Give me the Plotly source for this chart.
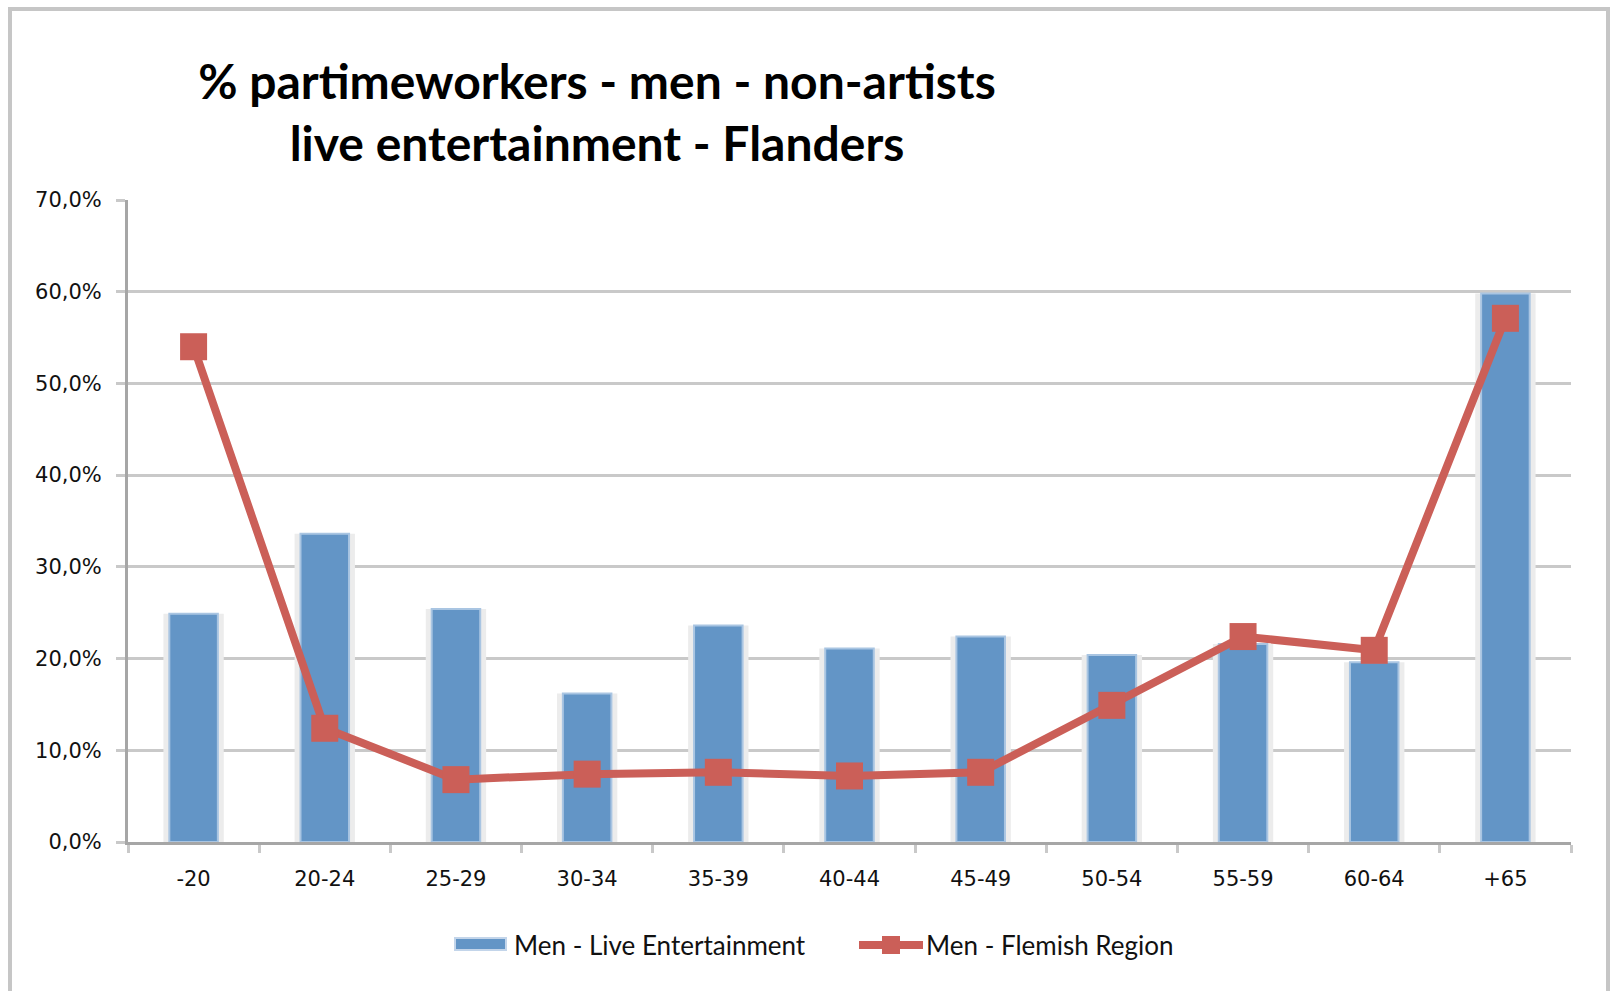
import plotly.graph_objects as go

# Age groups and part-time percentages (men)
age_groups = ["-20", "20-24", "25-29", "30-34", "35-39", "40-44",
              "45-49", "50-54", "55-59", "60-64", "+65"]
live_entertainment = [24.9, 33.6, 25.4, 16.2, 23.6, 21.1, 22.4, 20.4, 21.6, 19.6, 59.8]
flemish_region = [54.0, 12.4, 6.8, 7.4, 7.6, 7.2, 7.6, 14.9, 22.4, 20.9, 57.1]

y_ticks = [0, 10, 20, 30, 40, 50, 60, 70]
y_tick_labels = ["0,0%", "10,0%", "20,0%", "30,0%", "40,0%", "50,0%", "60,0%", "70,0%"]

BLUE = "#6395c6"
RED = "#cb5f58"
GRID = "#c9c9c9"

W, H = 1610, 991
ML, MR, MT, MB = 128, 39, 200, 149
PW, PH = W - ML - MR, H - MT - MB


def px_x(x):
    return (x - ML) / PW


def px_y(y):
    return (H - MB - y) / PH


fig = go.Figure()

# soft halo behind the columns
fig.add_trace(go.Bar(
    x=age_groups, y=live_entertainment, width=0.46,
    marker=dict(color="#ececec", line=dict(width=0)),
    showlegend=False, hoverinfo="skip",
))
fig.add_trace(go.Bar(
    x=age_groups, y=live_entertainment, width=0.37,
    name="Men - Live Entertainment",
    marker=dict(color=BLUE, line=dict(color="#a9c5e2", width=2)),
    showlegend=False,
))
fig.add_trace(go.Scatter(
    x=age_groups, y=flemish_region, mode="lines+markers",
    name="Men - Flemish Region",
    line=dict(color=RED, width=8),
    marker=dict(symbol="square", size=27, color=RED),
    showlegend=False,
))

shapes = [
    # outer chart frame
    dict(type="rect", xref="paper", yref="paper",
         x0=px_x(10), x1=px_x(1608), y0=px_y(1010), y1=px_y(9),
         line=dict(color="#c6c6c6", width=4), fillcolor="rgba(0,0,0,0)", layer="below"),
    # legend: column swatch
    dict(type="rect", xref="paper", yref="paper",
         x0=px_x(455), x1=px_x(506), y0=px_y(950), y1=px_y(938),
         line=dict(color="#c3d5ea", width=2), fillcolor=BLUE),
    # legend: line swatch
    dict(type="line", xref="paper", yref="paper",
         x0=px_x(859), x1=px_x(923), y0=px_y(945), y1=px_y(945),
         line=dict(color=RED, width=8)),
    dict(type="rect", xref="paper", yref="paper",
         x0=px_x(882), x1=px_x(900), y0=px_y(954), y1=px_y(936),
         line=dict(width=0), fillcolor=RED),
]

annotations = [
    dict(text="Men - Live Entertainment", xref="paper", yref="paper",
         x=px_x(512), y=px_y(945), xanchor="left", yanchor="middle",
         showarrow=False, font=dict(family="Lato", size=26, color="#111111")),
    dict(text="Men - Flemish Region", xref="paper", yref="paper",
         x=px_x(924), y=px_y(945), xanchor="left", yanchor="middle",
         showarrow=False, font=dict(family="Lato", size=26, color="#111111")),
]

fig.update_layout(
    width=W, height=H,
    margin=dict(l=ML, r=MR, t=MT, b=MB),
    paper_bgcolor="white", plot_bgcolor="white",
    barmode="overlay",
    title=dict(
        text="% partimeworkers - men - non-artists<br>live entertainment - Flanders",
        x=597 / W, xref="container", xanchor="center",
        y=1 - 99 / H, yref="container", yanchor="top",
        font=dict(family="Lato", size=48, color="black", weight="bold"),
    ),
    shapes=shapes,
    annotations=annotations,
    showlegend=False,
)

fig.update_xaxes(
    type="category", range=[-0.5, 10.5],
    showgrid=False, showline=True, linecolor="#a6a6a6", linewidth=3,
    ticks="outside", tickson="boundaries", ticklen=8, tickwidth=3, tickcolor=GRID,
    tickfont=dict(family="DejaVu Sans", size=21, color="#111111"),
    ticklabelstandoff=16,
)
fig.update_yaxes(
    range=[0, 70], tickvals=y_ticks, ticktext=y_tick_labels,
    showgrid=True, gridcolor=GRID, gridwidth=3,
    showline=True, linecolor="#a6a6a6", linewidth=3,
    zeroline=False,
    ticks="outside", ticklen=9, tickwidth=3, tickcolor=GRID,
    tickfont=dict(family="DejaVu Sans", size=21, color="#111111"),
    ticklabelstandoff=10,
)

fig.write_html("out.html")
